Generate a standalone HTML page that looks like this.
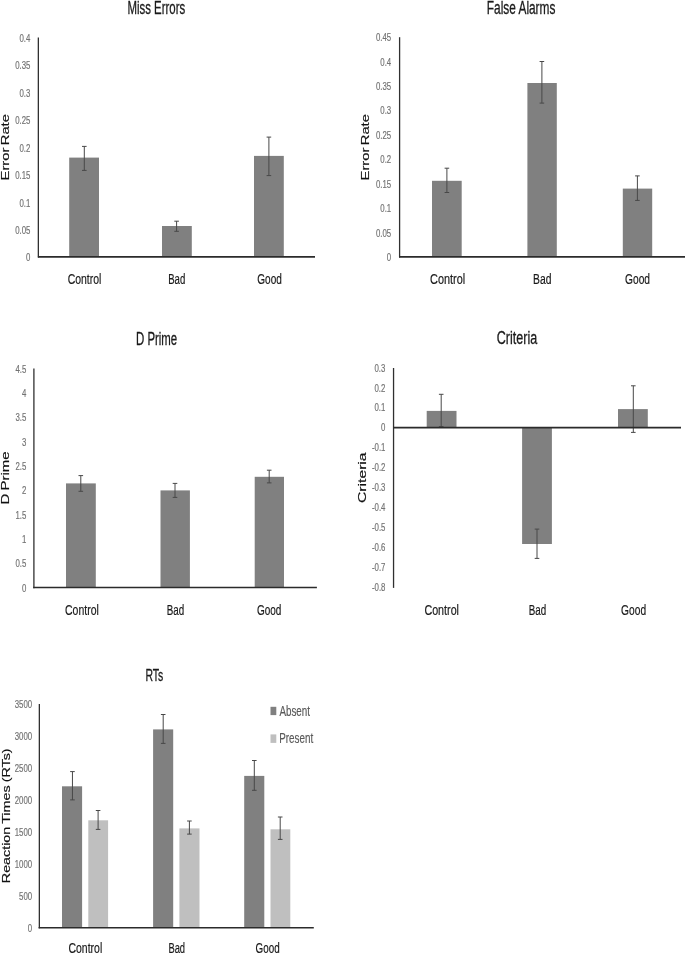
<!DOCTYPE html>
<html><head><meta charset="utf-8"><title>Charts</title>
<style>
html,body{margin:0;padding:0;background:#fff;}
svg{display:block;font-family:"Liberation Sans",sans-serif;opacity:0.999;will-change:transform;}
</style></head>
<body>
<svg width="685" height="954" viewBox="0 0 685 954">
<rect x="0" y="0" width="685" height="954" fill="#ffffff"/>
<text x="127.50" y="13.80" font-size="17.6" fill="#1a1a1a" stroke="#1a1a1a" stroke-width="0.3" textLength="57.70" lengthAdjust="spacingAndGlyphs">Miss Errors</text>
<text transform="translate(30.40,261.45) scale(0.67,1)" text-anchor="end" font-size="11.7" fill="#727272" stroke="#727272" stroke-width="0.18">0</text>
<text transform="translate(30.40,234.00) scale(0.67,1)" text-anchor="end" font-size="11.7" fill="#727272" stroke="#727272" stroke-width="0.18">0.05</text>
<text transform="translate(30.40,206.55) scale(0.67,1)" text-anchor="end" font-size="11.7" fill="#727272" stroke="#727272" stroke-width="0.18">0.1</text>
<text transform="translate(30.40,179.10) scale(0.67,1)" text-anchor="end" font-size="11.7" fill="#727272" stroke="#727272" stroke-width="0.18">0.15</text>
<text transform="translate(30.40,151.65) scale(0.67,1)" text-anchor="end" font-size="11.7" fill="#727272" stroke="#727272" stroke-width="0.18">0.2</text>
<text transform="translate(30.40,124.20) scale(0.67,1)" text-anchor="end" font-size="11.7" fill="#727272" stroke="#727272" stroke-width="0.18">0.25</text>
<text transform="translate(30.40,96.75) scale(0.67,1)" text-anchor="end" font-size="11.7" fill="#727272" stroke="#727272" stroke-width="0.18">0.3</text>
<text transform="translate(30.40,69.30) scale(0.67,1)" text-anchor="end" font-size="11.7" fill="#727272" stroke="#727272" stroke-width="0.18">0.35</text>
<text transform="translate(30.40,41.85) scale(0.67,1)" text-anchor="end" font-size="11.7" fill="#727272" stroke="#727272" stroke-width="0.18">0.4</text>
<rect x="69.20" y="157.60" width="29.80" height="99.40" fill="#808080"/>
<rect x="162.00" y="226.00" width="29.80" height="31.00" fill="#808080"/>
<rect x="254.00" y="155.90" width="29.80" height="101.10" fill="#808080"/>
<line x1="84.3" y1="146.4" x2="84.3" y2="170.4" stroke="#484848" stroke-width="1.0"/>
<line x1="82.0" y1="146.4" x2="86.6" y2="146.4" stroke="#484848" stroke-width="1.0"/>
<line x1="82.0" y1="170.4" x2="86.6" y2="170.4" stroke="#484848" stroke-width="1.0"/>
<line x1="176.6" y1="221.2" x2="176.6" y2="231.3" stroke="#484848" stroke-width="1.0"/>
<line x1="174.29999999999998" y1="221.2" x2="178.9" y2="221.2" stroke="#484848" stroke-width="1.0"/>
<line x1="174.29999999999998" y1="231.3" x2="178.9" y2="231.3" stroke="#484848" stroke-width="1.0"/>
<line x1="268.9" y1="137.1" x2="268.9" y2="175.6" stroke="#484848" stroke-width="1.0"/>
<line x1="266.59999999999997" y1="137.1" x2="271.2" y2="137.1" stroke="#484848" stroke-width="1.0"/>
<line x1="266.59999999999997" y1="175.6" x2="271.2" y2="175.6" stroke="#484848" stroke-width="1.0"/>
<line x1="38.35" y1="37.4" x2="38.35" y2="257.5" stroke="#303030" stroke-width="1.3"/>
<line x1="37.9" y1="256.8" x2="315.0" y2="256.8" stroke="#2b2b2b" stroke-width="1.7"/>
<text transform="translate(9.20,180.40) rotate(-90) scale(1,0.73)" font-size="14.3" fill="#111" stroke="#111" stroke-width="0.22" word-spacing="-1.6" textLength="66.30" lengthAdjust="spacingAndGlyphs">Error Rate</text>
<text x="67.70" y="283.80" font-size="15.3" fill="#1a1a1a" stroke="#1a1a1a" stroke-width="0.2" textLength="33.70" lengthAdjust="spacingAndGlyphs">Control</text>
<text x="168.20" y="283.80" font-size="15.3" fill="#1a1a1a" stroke="#1a1a1a" stroke-width="0.2" textLength="17.10" lengthAdjust="spacingAndGlyphs">Bad</text>
<text x="257.30" y="283.80" font-size="15.3" fill="#1a1a1a" stroke="#1a1a1a" stroke-width="0.2" textLength="24.60" lengthAdjust="spacingAndGlyphs">Good</text>
<text x="486.80" y="13.60" font-size="17.6" fill="#1a1a1a" stroke="#1a1a1a" stroke-width="0.3" textLength="68.60" lengthAdjust="spacingAndGlyphs">False Alarms</text>
<text transform="translate(391.20,260.95) scale(0.67,1)" text-anchor="end" font-size="11.7" fill="#727272" stroke="#727272" stroke-width="0.18">0</text>
<text transform="translate(391.20,236.53) scale(0.67,1)" text-anchor="end" font-size="11.7" fill="#727272" stroke="#727272" stroke-width="0.18">0.05</text>
<text transform="translate(391.20,212.11) scale(0.67,1)" text-anchor="end" font-size="11.7" fill="#727272" stroke="#727272" stroke-width="0.18">0.1</text>
<text transform="translate(391.20,187.68) scale(0.67,1)" text-anchor="end" font-size="11.7" fill="#727272" stroke="#727272" stroke-width="0.18">0.15</text>
<text transform="translate(391.20,163.26) scale(0.67,1)" text-anchor="end" font-size="11.7" fill="#727272" stroke="#727272" stroke-width="0.18">0.2</text>
<text transform="translate(391.20,138.84) scale(0.67,1)" text-anchor="end" font-size="11.7" fill="#727272" stroke="#727272" stroke-width="0.18">0.25</text>
<text transform="translate(391.20,114.42) scale(0.67,1)" text-anchor="end" font-size="11.7" fill="#727272" stroke="#727272" stroke-width="0.18">0.3</text>
<text transform="translate(391.20,89.99) scale(0.67,1)" text-anchor="end" font-size="11.7" fill="#727272" stroke="#727272" stroke-width="0.18">0.35</text>
<text transform="translate(391.20,65.57) scale(0.67,1)" text-anchor="end" font-size="11.7" fill="#727272" stroke="#727272" stroke-width="0.18">0.4</text>
<text transform="translate(391.20,41.15) scale(0.67,1)" text-anchor="end" font-size="11.7" fill="#727272" stroke="#727272" stroke-width="0.18">0.45</text>
<rect x="432.00" y="180.80" width="29.70" height="76.20" fill="#808080"/>
<rect x="527.40" y="83.00" width="29.40" height="174.00" fill="#808080"/>
<rect x="622.80" y="188.60" width="29.40" height="68.40" fill="#808080"/>
<line x1="446.9" y1="168.2" x2="446.9" y2="192.5" stroke="#484848" stroke-width="1.0"/>
<line x1="444.59999999999997" y1="168.2" x2="449.2" y2="168.2" stroke="#484848" stroke-width="1.0"/>
<line x1="444.59999999999997" y1="192.5" x2="449.2" y2="192.5" stroke="#484848" stroke-width="1.0"/>
<line x1="541.9" y1="61.5" x2="541.9" y2="103.1" stroke="#484848" stroke-width="1.0"/>
<line x1="539.6" y1="61.5" x2="544.1999999999999" y2="61.5" stroke="#484848" stroke-width="1.0"/>
<line x1="539.6" y1="103.1" x2="544.1999999999999" y2="103.1" stroke="#484848" stroke-width="1.0"/>
<line x1="637.4" y1="175.9" x2="637.4" y2="200.4" stroke="#484848" stroke-width="1.0"/>
<line x1="635.1" y1="175.9" x2="639.6999999999999" y2="175.9" stroke="#484848" stroke-width="1.0"/>
<line x1="635.1" y1="200.4" x2="639.6999999999999" y2="200.4" stroke="#484848" stroke-width="1.0"/>
<line x1="399.6" y1="37.2" x2="399.6" y2="257.5" stroke="#303030" stroke-width="1.3"/>
<line x1="399.0" y1="256.8" x2="685" y2="256.8" stroke="#2b2b2b" stroke-width="1.7"/>
<text transform="translate(369.30,180.40) rotate(-90) scale(1,0.73)" font-size="14.3" fill="#111" stroke="#111" stroke-width="0.22" word-spacing="-1.6" textLength="66.30" lengthAdjust="spacingAndGlyphs">Error Rate</text>
<text x="430.10" y="284.00" font-size="15.3" fill="#1a1a1a" stroke="#1a1a1a" stroke-width="0.2" textLength="35.10" lengthAdjust="spacingAndGlyphs">Control</text>
<text x="533.00" y="284.00" font-size="15.3" fill="#1a1a1a" stroke="#1a1a1a" stroke-width="0.2" textLength="18.40" lengthAdjust="spacingAndGlyphs">Bad</text>
<text x="625.00" y="284.00" font-size="15.3" fill="#1a1a1a" stroke="#1a1a1a" stroke-width="0.2" textLength="25.00" lengthAdjust="spacingAndGlyphs">Good</text>
<text x="136.00" y="344.80" font-size="17.6" fill="#1a1a1a" stroke="#1a1a1a" stroke-width="0.3" textLength="41.20" lengthAdjust="spacingAndGlyphs">D Prime</text>
<text transform="translate(26.40,591.75) scale(0.67,1)" text-anchor="end" font-size="11.7" fill="#727272" stroke="#727272" stroke-width="0.18">0</text>
<text transform="translate(26.40,567.39) scale(0.67,1)" text-anchor="end" font-size="11.7" fill="#727272" stroke="#727272" stroke-width="0.18">0.5</text>
<text transform="translate(26.40,543.04) scale(0.67,1)" text-anchor="end" font-size="11.7" fill="#727272" stroke="#727272" stroke-width="0.18">1</text>
<text transform="translate(26.40,518.68) scale(0.67,1)" text-anchor="end" font-size="11.7" fill="#727272" stroke="#727272" stroke-width="0.18">1.5</text>
<text transform="translate(26.40,494.33) scale(0.67,1)" text-anchor="end" font-size="11.7" fill="#727272" stroke="#727272" stroke-width="0.18">2</text>
<text transform="translate(26.40,469.97) scale(0.67,1)" text-anchor="end" font-size="11.7" fill="#727272" stroke="#727272" stroke-width="0.18">2.5</text>
<text transform="translate(26.40,445.62) scale(0.67,1)" text-anchor="end" font-size="11.7" fill="#727272" stroke="#727272" stroke-width="0.18">3</text>
<text transform="translate(26.40,421.26) scale(0.67,1)" text-anchor="end" font-size="11.7" fill="#727272" stroke="#727272" stroke-width="0.18">3.5</text>
<text transform="translate(26.40,396.91) scale(0.67,1)" text-anchor="end" font-size="11.7" fill="#727272" stroke="#727272" stroke-width="0.18">4</text>
<text transform="translate(26.40,372.55) scale(0.67,1)" text-anchor="end" font-size="11.7" fill="#727272" stroke="#727272" stroke-width="0.18">4.5</text>
<rect x="66.00" y="483.40" width="29.80" height="104.40" fill="#808080"/>
<rect x="160.50" y="490.40" width="29.40" height="97.40" fill="#808080"/>
<rect x="254.70" y="476.80" width="29.30" height="111.00" fill="#808080"/>
<line x1="80.8" y1="475.6" x2="80.8" y2="491.3" stroke="#484848" stroke-width="1.0"/>
<line x1="78.5" y1="475.6" x2="83.1" y2="475.6" stroke="#484848" stroke-width="1.0"/>
<line x1="78.5" y1="491.3" x2="83.1" y2="491.3" stroke="#484848" stroke-width="1.0"/>
<line x1="175.0" y1="483.4" x2="175.0" y2="497.4" stroke="#484848" stroke-width="1.0"/>
<line x1="172.7" y1="483.4" x2="177.3" y2="483.4" stroke="#484848" stroke-width="1.0"/>
<line x1="172.7" y1="497.4" x2="177.3" y2="497.4" stroke="#484848" stroke-width="1.0"/>
<line x1="269.2" y1="470.2" x2="269.2" y2="482.9" stroke="#484848" stroke-width="1.0"/>
<line x1="266.9" y1="470.2" x2="271.5" y2="470.2" stroke="#484848" stroke-width="1.0"/>
<line x1="266.9" y1="482.9" x2="271.5" y2="482.9" stroke="#484848" stroke-width="1.0"/>
<line x1="33.9" y1="368.6" x2="33.9" y2="588.1999999999999" stroke="#303030" stroke-width="1.3"/>
<line x1="33.2" y1="587.5" x2="316.9" y2="587.5" stroke="#2b2b2b" stroke-width="1.5"/>
<text transform="translate(8.90,504.40) rotate(-90) scale(1,0.73)" font-size="14.3" fill="#111" stroke="#111" stroke-width="0.22" word-spacing="-1.0" textLength="53.00" lengthAdjust="spacingAndGlyphs">D Prime</text>
<text x="65.00" y="614.60" font-size="15.3" fill="#1a1a1a" stroke="#1a1a1a" stroke-width="0.2" textLength="33.80" lengthAdjust="spacingAndGlyphs">Control</text>
<text x="166.70" y="614.60" font-size="15.3" fill="#1a1a1a" stroke="#1a1a1a" stroke-width="0.2" textLength="17.50" lengthAdjust="spacingAndGlyphs">Bad</text>
<text x="256.90" y="614.60" font-size="15.3" fill="#1a1a1a" stroke="#1a1a1a" stroke-width="0.2" textLength="24.50" lengthAdjust="spacingAndGlyphs">Good</text>
<text x="496.70" y="343.60" font-size="17.6" fill="#1a1a1a" stroke="#1a1a1a" stroke-width="0.3" textLength="40.50" lengthAdjust="spacingAndGlyphs">Criteria</text>
<text transform="translate(385.40,371.55) scale(0.67,1)" text-anchor="end" font-size="11.7" fill="#727272" stroke="#727272" stroke-width="0.18">0.3</text>
<text transform="translate(385.40,391.51) scale(0.67,1)" text-anchor="end" font-size="11.7" fill="#727272" stroke="#727272" stroke-width="0.18">0.2</text>
<text transform="translate(385.40,411.48) scale(0.67,1)" text-anchor="end" font-size="11.7" fill="#727272" stroke="#727272" stroke-width="0.18">0.1</text>
<text transform="translate(385.40,431.44) scale(0.67,1)" text-anchor="end" font-size="11.7" fill="#727272" stroke="#727272" stroke-width="0.18">0</text>
<text transform="translate(385.40,451.40) scale(0.67,1)" text-anchor="end" font-size="11.7" fill="#727272" stroke="#727272" stroke-width="0.18">-0.1</text>
<text transform="translate(385.40,471.37) scale(0.67,1)" text-anchor="end" font-size="11.7" fill="#727272" stroke="#727272" stroke-width="0.18">-0.2</text>
<text transform="translate(385.40,491.33) scale(0.67,1)" text-anchor="end" font-size="11.7" fill="#727272" stroke="#727272" stroke-width="0.18">-0.3</text>
<text transform="translate(385.40,511.30) scale(0.67,1)" text-anchor="end" font-size="11.7" fill="#727272" stroke="#727272" stroke-width="0.18">-0.4</text>
<text transform="translate(385.40,531.26) scale(0.67,1)" text-anchor="end" font-size="11.7" fill="#727272" stroke="#727272" stroke-width="0.18">-0.5</text>
<text transform="translate(385.40,551.22) scale(0.67,1)" text-anchor="end" font-size="11.7" fill="#727272" stroke="#727272" stroke-width="0.18">-0.6</text>
<text transform="translate(385.40,571.19) scale(0.67,1)" text-anchor="end" font-size="11.7" fill="#727272" stroke="#727272" stroke-width="0.18">-0.7</text>
<text transform="translate(385.40,591.15) scale(0.67,1)" text-anchor="end" font-size="11.7" fill="#727272" stroke="#727272" stroke-width="0.18">-0.8</text>
<rect x="426.70" y="410.90" width="29.80" height="16.99" fill="#808080"/>
<rect x="522.10" y="427.89" width="29.80" height="116.11" fill="#808080"/>
<rect x="618.00" y="409.10" width="29.80" height="18.79" fill="#808080"/>
<line x1="441.2" y1="394.3" x2="441.2" y2="426.7" stroke="#484848" stroke-width="1.0"/>
<line x1="438.9" y1="394.3" x2="443.5" y2="394.3" stroke="#484848" stroke-width="1.0"/>
<line x1="438.9" y1="426.7" x2="443.5" y2="426.7" stroke="#484848" stroke-width="1.0"/>
<line x1="537.0" y1="529.1" x2="537.0" y2="558.4" stroke="#484848" stroke-width="1.0"/>
<line x1="534.7" y1="529.1" x2="539.3" y2="529.1" stroke="#484848" stroke-width="1.0"/>
<line x1="534.7" y1="558.4" x2="539.3" y2="558.4" stroke="#484848" stroke-width="1.0"/>
<line x1="633.3" y1="385.8" x2="633.3" y2="432.4" stroke="#484848" stroke-width="1.0"/>
<line x1="631.0" y1="385.8" x2="635.5999999999999" y2="385.8" stroke="#484848" stroke-width="1.0"/>
<line x1="631.0" y1="432.4" x2="635.5999999999999" y2="432.4" stroke="#484848" stroke-width="1.0"/>
<line x1="393.55" y1="368.0" x2="393.55" y2="587.9" stroke="#303030" stroke-width="1.3"/>
<line x1="393.0" y1="427.6909090909091" x2="681.0" y2="427.6909090909091" stroke="#2b2b2b" stroke-width="1.7"/>
<text transform="translate(366.00,503.00) rotate(-90) scale(1,0.73)" font-size="14.3" fill="#111" stroke="#111" stroke-width="0.22" word-spacing="-1.6" textLength="50.60" lengthAdjust="spacingAndGlyphs">Criteria</text>
<text x="424.40" y="614.60" font-size="15.3" fill="#1a1a1a" stroke="#1a1a1a" stroke-width="0.2" textLength="34.60" lengthAdjust="spacingAndGlyphs">Control</text>
<text x="528.70" y="614.60" font-size="15.3" fill="#1a1a1a" stroke="#1a1a1a" stroke-width="0.2" textLength="17.50" lengthAdjust="spacingAndGlyphs">Bad</text>
<text x="621.10" y="614.60" font-size="15.3" fill="#1a1a1a" stroke="#1a1a1a" stroke-width="0.2" textLength="25.00" lengthAdjust="spacingAndGlyphs">Good</text>
<text x="145.50" y="681.00" font-size="17.2" fill="#1a1a1a" stroke="#1a1a1a" stroke-width="0.3" textLength="17.80" lengthAdjust="spacingAndGlyphs">RTs</text>
<text transform="translate(32.10,932.05) scale(0.67,1)" text-anchor="end" font-size="11.7" fill="#727272" stroke="#727272" stroke-width="0.18">0</text>
<text transform="translate(32.10,900.09) scale(0.67,1)" text-anchor="end" font-size="11.7" fill="#727272" stroke="#727272" stroke-width="0.18">500</text>
<text transform="translate(32.10,868.14) scale(0.67,1)" text-anchor="end" font-size="11.7" fill="#727272" stroke="#727272" stroke-width="0.18">1000</text>
<text transform="translate(32.10,836.18) scale(0.67,1)" text-anchor="end" font-size="11.7" fill="#727272" stroke="#727272" stroke-width="0.18">1500</text>
<text transform="translate(32.10,804.22) scale(0.67,1)" text-anchor="end" font-size="11.7" fill="#727272" stroke="#727272" stroke-width="0.18">2000</text>
<text transform="translate(32.10,772.26) scale(0.67,1)" text-anchor="end" font-size="11.7" fill="#727272" stroke="#727272" stroke-width="0.18">2500</text>
<text transform="translate(32.10,740.31) scale(0.67,1)" text-anchor="end" font-size="11.7" fill="#727272" stroke="#727272" stroke-width="0.18">3000</text>
<text transform="translate(32.10,708.35) scale(0.67,1)" text-anchor="end" font-size="11.7" fill="#727272" stroke="#727272" stroke-width="0.18">3500</text>
<rect x="62.00" y="786.30" width="20.10" height="141.40" fill="#808080"/>
<rect x="88.30" y="820.30" width="19.80" height="107.40" fill="#bfbfbf"/>
<rect x="153.10" y="729.40" width="20.10" height="198.30" fill="#808080"/>
<rect x="179.40" y="828.40" width="20.10" height="99.30" fill="#bfbfbf"/>
<rect x="244.20" y="775.90" width="20.10" height="151.80" fill="#808080"/>
<rect x="270.50" y="829.30" width="19.80" height="98.40" fill="#bfbfbf"/>
<line x1="72.45" y1="771.6" x2="72.45" y2="799.9" stroke="#484848" stroke-width="1.0"/>
<line x1="70.15" y1="771.6" x2="74.75" y2="771.6" stroke="#484848" stroke-width="1.0"/>
<line x1="70.15" y1="799.9" x2="74.75" y2="799.9" stroke="#484848" stroke-width="1.0"/>
<line x1="98.1" y1="810.5" x2="98.1" y2="829.4" stroke="#484848" stroke-width="1.0"/>
<line x1="95.8" y1="810.5" x2="100.39999999999999" y2="810.5" stroke="#484848" stroke-width="1.0"/>
<line x1="95.8" y1="829.4" x2="100.39999999999999" y2="829.4" stroke="#484848" stroke-width="1.0"/>
<line x1="163.2" y1="714.5" x2="163.2" y2="743.4" stroke="#484848" stroke-width="1.0"/>
<line x1="160.89999999999998" y1="714.5" x2="165.5" y2="714.5" stroke="#484848" stroke-width="1.0"/>
<line x1="160.89999999999998" y1="743.4" x2="165.5" y2="743.4" stroke="#484848" stroke-width="1.0"/>
<line x1="189.4" y1="821.0" x2="189.4" y2="834.1" stroke="#484848" stroke-width="1.0"/>
<line x1="187.1" y1="821.0" x2="191.70000000000002" y2="821.0" stroke="#484848" stroke-width="1.0"/>
<line x1="187.1" y1="834.1" x2="191.70000000000002" y2="834.1" stroke="#484848" stroke-width="1.0"/>
<line x1="254.3" y1="760.5" x2="254.3" y2="790.3" stroke="#484848" stroke-width="1.0"/>
<line x1="252.0" y1="760.5" x2="256.6" y2="760.5" stroke="#484848" stroke-width="1.0"/>
<line x1="252.0" y1="790.3" x2="256.6" y2="790.3" stroke="#484848" stroke-width="1.0"/>
<line x1="280.2" y1="817.0" x2="280.2" y2="839.4" stroke="#484848" stroke-width="1.0"/>
<line x1="277.9" y1="817.0" x2="282.5" y2="817.0" stroke="#484848" stroke-width="1.0"/>
<line x1="277.9" y1="839.4" x2="282.5" y2="839.4" stroke="#484848" stroke-width="1.0"/>
<line x1="39.35" y1="704.0" x2="39.35" y2="928.2" stroke="#303030" stroke-width="1.3"/>
<line x1="38.6" y1="927.7" x2="313.8" y2="927.7" stroke="#2b2b2b" stroke-width="1.4"/>
<text transform="translate(9.50,883.20) rotate(-90) scale(1,0.7)" font-size="14.3" fill="#111" stroke="#111" stroke-width="0.22" word-spacing="-0.8" textLength="134.80" lengthAdjust="spacingAndGlyphs">Reaction Times (RTs)</text>
<text x="68.50" y="953.00" font-size="15.3" fill="#1a1a1a" stroke="#1a1a1a" stroke-width="0.2" textLength="33.70" lengthAdjust="spacingAndGlyphs">Control</text>
<text x="168.40" y="953.00" font-size="15.3" fill="#1a1a1a" stroke="#1a1a1a" stroke-width="0.2" textLength="16.70" lengthAdjust="spacingAndGlyphs">Bad</text>
<text x="255.60" y="953.00" font-size="15.3" fill="#1a1a1a" stroke="#1a1a1a" stroke-width="0.2" textLength="24.10" lengthAdjust="spacingAndGlyphs">Good</text>
<rect x="270.50" y="706.80" width="5.80" height="8.30" fill="#808080"/>
<rect x="270.50" y="734.40" width="5.80" height="8.50" fill="#bfbfbf"/>
<text x="279.40" y="715.50" font-size="15.4" fill="#5a5a5a" stroke="#5a5a5a" stroke-width="0.2" textLength="30.60" lengthAdjust="spacingAndGlyphs">Absent</text>
<text x="279.20" y="743.30" font-size="15.4" fill="#5a5a5a" stroke="#5a5a5a" stroke-width="0.2" textLength="34.00" lengthAdjust="spacingAndGlyphs">Present</text>
</svg>
</body></html>
